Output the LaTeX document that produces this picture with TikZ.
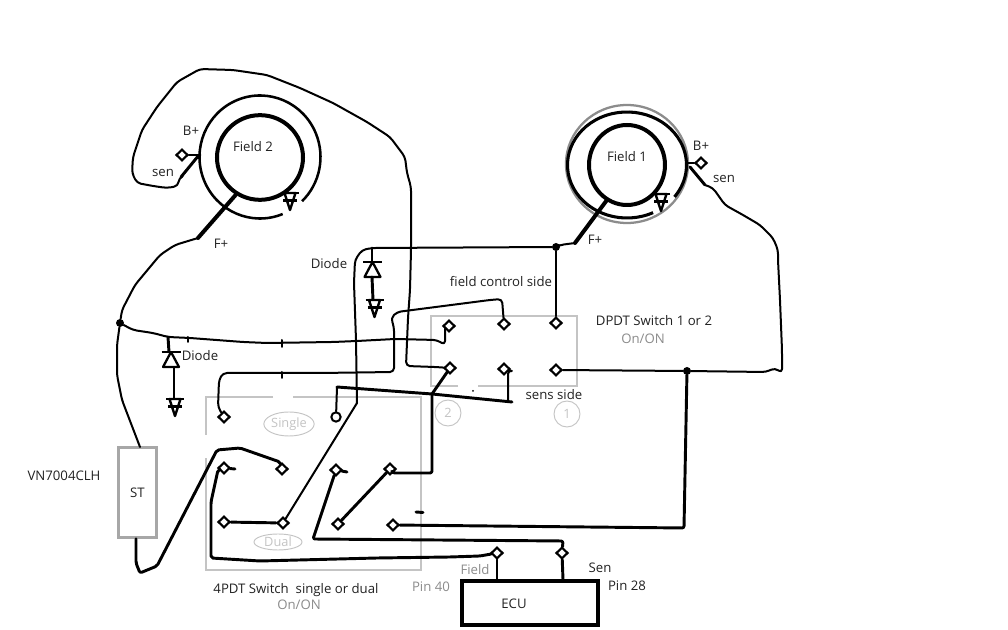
\documentclass[tikz,border=0pt]{standalone}
\usepackage{fontspec}
\setmainfont{Open Sans}
\usetikzlibrary{shapes.geometric}
\definecolor{ink}{HTML}{222222}
\definecolor{pale}{HTML}{C4C4C4}
\definecolor{midg}{HTML}{8C8C8C}
\tikzset{
 term/.style={diamond,draw=black,fill=white,line width=1.6pt,inner sep=0pt,minimum width=9pt,minimum height=8.6pt},
 w1/.style={draw=black,line width=1.5pt,line join=round,line cap=round,rounded corners=3pt},
 w2/.style={draw=black,line width=2.2pt,line join=round,line cap=round,rounded corners=1.5pt},
 w3/.style={draw=black,line width=3pt,line join=round,line cap=round},
 lab/.style={text=ink,font=\fontsize{9.9}{11}\selectfont,inner sep=0pt},
 glab/.style={text=midg,font=\fontsize{9.9}{11}\selectfont,inner sep=0pt},
 plab/.style={text=pale,font=\fontsize{9.6}{11}\selectfont,inner sep=0pt},
 palebox/.style={draw=pale,line width=0.8pt},
 ground/.pic={
   \draw[black,line width=1.8pt,fill=white,line join=round] (-5.5,0)--(0,17)--(5.5,0)--cycle;
   \draw[black,line width=2.2pt] (-9,0)--(9,0);
   \draw[black,line width=2pt] (-7,7.5)--(7,7.5);
 },
 diodepic/.pic={
   \draw[black,line width=1.7pt] (-9.5,0)--(9.5,0);
   \draw[black,line width=1.7pt,line join=round] (0,0)--(-8,15)--(8,15)--cycle;
 },
}
\begin{document}
\begin{tikzpicture}[x=0.75pt,y=-0.75pt]
\useasboundingbox[fill=white] (0,0) rectangle (1008,630);

% pale switch frames
\draw[palebox] (273,397)--(206,397)--(206,435);
\draw[palebox] (293,397)--(421,397)--(421,570)--(206,570)--(206,458);
\draw[palebox] (458,386)--(431,386)--(431,316)--(577,316)--(577,386)--(478,386);
\node[draw=pale,line width=0.7pt,circle,minimum size=19.5pt,plab] (num2) at (448,413) {2};
\node[draw=pale,line width=0.7pt,circle,minimum size=19.5pt,plab] (num1) at (567,414) {1};
\node[draw=pale,line width=0.7pt,ellipse,minimum width=31pt,minimum height=18pt,plab] (single) at (289,424) {Single};
\node[draw=pale,line width=0.7pt,ellipse,minimum width=36pt,minimum height=12pt,plab] (dual) at (278,542) {Dual};

% field 2
\node[draw=black,line width=3pt,ellipse,minimum width=64.5pt,minimum height=63.5pt,inner sep=0pt] (f2) at (260,157.5) {};
\draw[black,line width=1.9pt] (260,157) ++(68:60.5 and 61.5) arc[start angle=68,end angle=406,x radius=60.5,y radius=61.5];
% field 1
\draw[midg,line width=1.7pt] (627,164) ellipse [x radius=61,y radius=59];
\draw[black,line width=2.3pt] (627,165) ++(64:59.5 and 53) arc[start angle=64,end angle=397,x radius=59.5,y radius=53];
\node[draw=black,line width=3pt,ellipse,minimum width=57pt,minimum height=60pt,inner sep=0pt] (f1) at (627,165) {};

% terminals
\node[term] (bp2) at (182,155) {};
\node[term] (bp1) at (701,163) {};
\node[term] (a1) at (449,326) {};
\node[term] (a2) at (504,324) {};
\node[term] (a3) at (556,323) {};
\node[term] (b1) at (450,368) {};
\node[term] (b2) at (504,369) {};
\node[term] (b3) at (556,370) {};
\node[term] (t0) at (224,417) {};
\node[draw=black,fill=white,line width=1.5pt,circle,minimum size=7pt,inner sep=0pt] (t9) at (336,417) {};
\node[term] (c1) at (224,468) {};
\node[term] (c2) at (282,469) {};
\node[term] (c3) at (224,522) {};
\node[term] (c4) at (283,523) {};
\node[term] (c5) at (336,470) {};
\node[term] (c6) at (390,469) {};
\node[term] (c7) at (338,524) {};
\node[term] (c8) at (393,525) {};
\node[term] (e1) at (497,553) {};
\node[term] (e2) at (562,553) {};

% boxes
\node[draw=pale!85!black,line width=2.4pt,minimum width=28pt,minimum height=67pt,inner sep=0pt,lab] (st) at (137.5,492.5) {ST};
\node[draw=black,line width=2.3pt,minimum width=102pt,minimum height=33pt,inner sep=0pt] (ecu) at (530,603) {};

% junctions
\node[circle,fill=black,inner sep=0pt,minimum size=6pt] (ja) at (120,323) {};
\node[circle,fill=black,inner sep=0pt,minimum size=6pt] (jb) at (556,247) {};
\node[circle,fill=black,inner sep=0pt,minimum size=6pt] (jc) at (687,371) {};
\coordinate (jd) at (432,394);
\coordinate (je) at (357,403);
\coordinate (fp2) at (198,238);
\coordinate (fp1) at (575,243);
\coordinate (sen2) at (181,177);
\coordinate (sen1) at (705,185);
\coordinate (d1a) at (168,337);
\coordinate (d1b) at (174,368);
\coordinate (d2a) at (372,248);
\coordinate (d2b) at (372,277);

% field 2 wiring
\draw[w3] (f2.237) -- (fp2);
\draw[w1] (fp2)--(175,245)--(160,255)--(135,285)--(122,310)--(ja);
\draw[w1] (ja)--(117,345)--(117,375)--(122,400)--(140,447);
\draw[w2] (bp2)--(200,155);
\draw[w2] (199,155)--(sen2);
\draw[w1] (sen2)--(179,178)--(178,186)--(167,188)--(153,186)--(137,183)--(132,173)--(133,157)--(142,130)--(157,107)--(177,82)--(200,69)--(233,70)--(267,75)--(300,88)--(333,103)--(367,122)--(390,137)--(405,157)--(407,173)--(411,187)--(411,250)--(410,290)--(408,318)--(406,366)--(435,367)--(b1);

% field 1 wiring
\draw[w3] (f1.240) -- (fp1);
\draw[w1] (fp1)--(560,245)--(jb);
\draw[w1] (jb)--(d2a)--(362,250)--(355,260)--(354,283)--(356,340)--(je);
\draw[w1] (je)--(c4);
\draw[w1] (jb)--(a3);
\draw[w2] (bp1)--(688,163);
\draw[w2] (690,167)--(sen1);
\draw[w1] (sen1)--(713,188)--(725,205)--(743,215)--(760,225)--(773,238)--(778,250)--(778,260)--(780,300)--(782,350)--(782,373)--(775,368)--(766,372)--(jc);
\draw[w1] (jc)--(b3);
\draw[w2] (jc)--(684,528)--(c8);

% first diode branch
\draw[w1] (ja)--(133,330)--(153,333)--(d1a)--(190,338)--(243,342)--(267,343)--(333,342)--(357,341)--(395,339)--(437,340)--(445,345)--(445,329);
\draw[w1] (445,329)--(a1);
\draw[w1] (282,340)--(282,347);
\draw[w1] (282,372)--(282,378);
\draw[w1] (188,337)--(188,342);
\draw[w2] (d1a)--(169,352);
\draw[w2] (d1b)--(174,398);
\path (171,352) pic {diodepic};
\path (175,399) pic {ground};

% second diode
\draw[w2] (d2a)--(372,262);
\draw[w2] (d2b)--(373,300);
\path (372.5,262) pic {diodepic};
\path (374.5,300) pic {ground};

% field grounds
\path (290,193) pic {ground};
\path (661,194) pic {ground};

% dpdt to single
\draw[w1] (a2)--(502,299)--(490,300)--(397,312)--(391,318)--(394,327)--(394,372)--(320,373)--(223,373)--(219,380)--(218,407)--(t0);

% common bar
\draw[w2] (337,387)--(jd)--(512,402);
\draw[w1] (337,387)--(t9);
\draw[w2] (jd)--(b1);
\draw[w2] (jd)--(432,473)--(393,473)--(c6);
\draw[w1] (b2)--(508,370)--(508,401);
\fill[black] (473,391) circle[radius=1];

% 4pdt wiring
\draw[w2] (st.south -| 136,538)--(136,563)--(140,573)--(157,566)--(217,450)--(240,448)--(280,462)--(c2);
\draw[w2] (c3)--(c4);
\draw[w2] (c7)--(c6);
\draw[w2] (c1)--(218,470)--(211,502)--(211,558)--(260,561)--(377,558)--(450,557)--(480,556)--(e1);
\draw[w2] (c1)--(235,469);
\draw[w2] (e1)--(ecu.north -| e1);
\draw[w2] (c5)--(313,539)--(563,541)--(e2);
\draw[w2] (c5)--(347,472);
\draw[w2] (e2)--(ecu.north -| 563,581);
\draw[w2] (416,512)--(423,512.5);

% labels
\node[lab] (t1) at (191,131) {B+};
\node[lab] (t2) at (163,173) {sen};
\node[lab] (t3) at (253,147) {Field 2};
\node[lab] (t4) at (221,244) {F+};
\node[lab] (t5) at (329,264) {Diode};
\node[lab] (t6) at (627,157) {Field 1};
\node[lab] (t7) at (701,146) {B+};
\node[lab] (t8) at (724,179) {sen};
\node[lab] (t10) at (595,240) {F+};
\node[lab] (t11) at (501,282) {field control side};
\node[lab] (t12) at (654,321) {DPDT Switch 1 or 2};
\node[glab] (t13) at (643,339) {On/ON};
\node[lab] (t14) at (554,395) {sens side};
\node[lab] (t15) at (200,356) {Diode};
\node[lab] (t16) at (64,476) {VN7004CLH};
\node[lab] (t17) at (296,590) {4PDT Switch\ \ single or dual};
\node[glab] (t18) at (299,605) {On/ON};
\node[glab] (t19) at (431,587) {Pin 40};
\node[glab] (t20) at (475,570) {Field};
\node[lab] (t21) at (600,568) {Sen};
\node[lab] (t22) at (627,586) {Pin 28};
\node[lab] (t23) at (514,604) {ECU};
\end{tikzpicture}
\end{document}
